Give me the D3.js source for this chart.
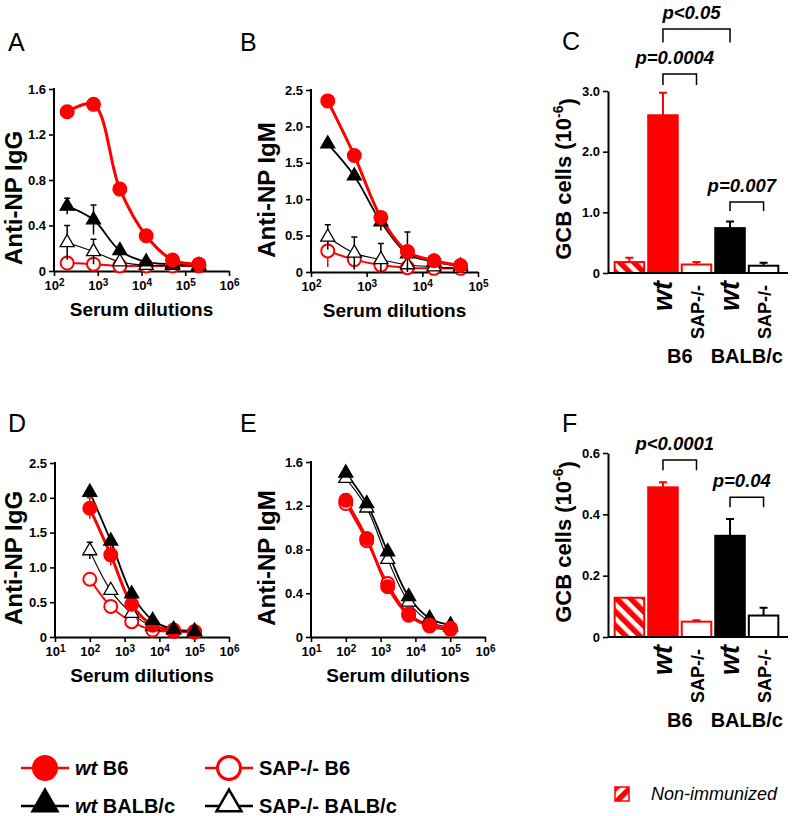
<!DOCTYPE html>
<html>
<head>
<meta charset="utf-8">
<script src="https://cdn.jsdelivr.net/npm/d3@7/dist/d3.min.js"></script>
<style>
  body { margin: 0; background: #fff; }
  text { font-family: "Liberation Sans", Arial, sans-serif; }
</style>
</head>
<body>
<svg width="800" height="816"></svg>
<script>
const RED = '#ff0000';

// ---- serum dilutions ----
const dilA = [200, 800, 3200, 12800, 51200, 204800];
const dilB = [200, 600, 1800, 5400, 16200, 48600];
const dilDE = [100, 400, 1600, 6400, 25600, 102400];

// ---- A : anti-NP IgG ----
const aWtB6 = [1.40, 1.465, 0.72, 0.31, 0.097, 0.06];
const aWtB6Err = [0.05, 0, 0, 0, 0, 0];
const aSapB6 = [0.07, 0.06, 0.045, 0.045, 0.045, 0.045];
const aSapB6Err = [0, 0, 0, 0, 0, 0];
const aWtBALB = [0.57, 0.45, 0.18, 0.08, 0.06, 0.05];
const aWtBALBErr = [0.07, 0.13, 0.02, 0, 0, 0];
const aSapBALB = [0.25, 0.17, 0.08, 0.05, 0.05, 0.04];
const aSapBALBErr = [0.15, 0.11, 0.02, 0, 0, 0];

// ---- B : anti-NP IgM ----
const bWtB6 = [2.35, 1.60, 0.75, 0.28, 0.155, 0.09];
const bWtB6Err = [0, 0, 0, 0, 0, 0];
const bSapB6 = [0.29, 0.17, 0.095, 0.06, 0.05, 0.05];
const bSapB6Err = [0.22, 0.14, 0.02, 0, 0, 0];
const bWtBALB = [1.76, 1.32, 0.69, 0.25, 0.14, 0.08];
const bWtBALBErr = [0, 0, 0.12, 0.30, 0, 0];
const bSapBALB = [0.48, 0.26, 0.17, 0.10, 0.07, 0.05];
const bSapBALBErr = [0.17, 0.22, 0.22, 0, 0, 0];

// ---- D : anti-NP IgG ----
const dWtB6 = [1.85, 1.18, 0.47, 0.17, 0.10, 0.08];
const dWtB6Err = [0.15, 0.15, 0.05, 0, 0, 0];
const dSapB6 = [0.83, 0.44, 0.22, 0.10, 0.08, 0.07];
const dSapB6Err = [0, 0, 0, 0, 0, 0];
const dWtBALB = [2.08, 1.38, 0.62, 0.24, 0.11, 0.08];
const dWtBALBErr = [0, 0, 0, 0, 0, 0];
const dSapBALB = [1.24, 0.67, 0.34, 0.15, 0.10, 0.08];
const dSapBALBErr = [0.12, 0, 0, 0, 0, 0];

// ---- E : anti-NP IgM ----
const eWtB6 = [1.25, 0.90, 0.46, 0.20, 0.10, 0.07];
const eWtB6Err = [0.06, 0.02, 0, 0, 0, 0];
const eSapB6 = [1.22, 0.88, 0.49, 0.21, 0.11, 0.08];
const eSapB6Err = [0, 0, 0, 0, 0, 0];
const eWtBALB = [1.50, 1.22, 0.78, 0.37, 0.17, 0.11];
const eWtBALBErr = [0, 0, 0, 0, 0, 0];
const eSapBALB = [1.45, 1.18, 0.71, 0.32, 0.14, 0.09];
const eSapBALBErr = [0, 0, 0, 0, 0, 0];

// ---- C / F : GCB cells ----
const barCats = ['non', 'wtB6', 'sapB6', 'wtBALB', 'sapBALB'];
const barLabels = ['', 'wt', 'SAP-/-', 'wt', 'SAP-/-'];
const cMeans = [0.18, 2.60, 0.14, 0.74, 0.12];
const cErr = [0.07, 0.37, 0.04, 0.11, 0.05];
const fMeans = [0.128, 0.488, 0.05, 0.33, 0.07];
const fErr = [0, 0.017, 0.005, 0.055, 0.025];

const svg = d3.select('svg');

// hatch patterns
const defs = svg.append('defs');
function hatch(id, angle) {
  const p = defs.append('pattern').attr('id', id)
    .attr('patternUnits', 'userSpaceOnUse').attr('width', 10).attr('height', 10)
    .attr('patternTransform', `rotate(${angle})`);
  p.append('rect').attr('width', 10).attr('height', 10).attr('fill', '#fff');
  p.append('rect').attr('width', 5.5).attr('height', 10).attr('fill', RED);
}
hatch('hatchBar', -45);
hatch('hatchLeg', 45);

const styles = {
  wtB6: { color: RED, lw: 3, shape: 'circle', fill: RED },
  sapB6: { color: RED, lw: 2, shape: 'circle', fill: '#fff' },
  wtBALB: { color: '#000', lw: 1.8, shape: 'triangle', fill: '#000' },
  sapBALB: { color: '#000', lw: 1.1, shape: 'triangle', fill: '#fff' },
};

function marker(g, st, x, y, big) {
  if (st.shape === 'circle') {
    g.append('circle').attr('cx', x).attr('cy', y).attr('r', big ? 11.5 : 6.5)
      .attr('fill', st.fill).attr('stroke', st.color).attr('stroke-width', big ? 3 : 2);
  } else {
    g.append('path').attr('d', d3.symbol(d3.symbolTriangle, big ? 270 : 85)())
      .attr('transform', `translate(${x},${y})`)
      .attr('fill', st.fill).attr('stroke', '#000').attr('stroke-width', big ? 2.5 : 1.3);
  }
}

function styleAxis(ax) {
  ax.select('.domain').attr('stroke', '#000').attr('stroke-width', 2);
  ax.selectAll('.tick line').attr('stroke', '#000').attr('stroke-width', 1.6);
  ax.selectAll('.tick text').attr('fill', '#000').attr('font-size', 13)
    .attr('font-weight', 'bold').attr('font-family', '"Liberation Sans", Arial, sans-serif');
}

function letter(x, y, t) {
  svg.append('text').attr('x', x).attr('y', y).attr('font-size', 25).text(t);
}

function yTitle(x, cy, t, size, sup) {
  const tx = svg.append('text').attr('transform', `translate(${x},${cy}) rotate(-90)`)
    .attr('text-anchor', 'middle').attr('font-size', size).attr('font-weight', 'bold').text(t);
  if (sup) {
    tx.append('tspan').attr('dy', '-0.55em').attr('font-size', 14).text(sup);
    tx.append('tspan').attr('dy', '0.55em').text(')');
  }
}

function linePanel(p) {
  const x = d3.scaleLog().domain(p.xDomain).range([p.left, p.right]);
  const y = d3.scaleLinear().domain(p.yDomain).range([p.bottom, p.top]);
  const g = svg.append('g');

  const xa = g.append('g').attr('transform', `translate(0,${p.bottom})`)
    .call(d3.axisBottom(x).tickValues(p.xTicks).tickSize(5).tickSizeOuter(0).tickPadding(5));
  styleAxis(xa);
  xa.selectAll('.tick text').each(function (d) {
    const t = d3.select(this).text('10');
    t.append('tspan').attr('dy', '-0.45em').attr('font-size', 10).text(Math.round(Math.log10(d)));
  });
  const ya = g.append('g').attr('transform', `translate(${p.left},0)`)
    .call(d3.axisLeft(y).tickValues(p.yTicks).tickSize(5).tickSizeOuter(0).tickPadding(3)
      .tickFormat(d => d === 0 ? '0' : d3.format(p.yFmt)(d)));
  styleAxis(ya);
  ya.select('.domain').attr('d', `M0,${p.bottom}V${p.top - 1}`);

  svg.append('text').attr('x', (p.left + p.right) / 2).attr('y', p.bottom + 45)
    .attr('text-anchor', 'middle').attr('font-size', 19).attr('font-weight', 'bold')
    .text('Serum dilutions');
  yTitle(p.titleX, p.titleY, p.title, 24);
  letter(p.letterX, p.letterY, p.letter);

  const line = d3.line().curve(d3.curveCatmullRom.alpha(0.5))
    .x((d, i) => x(p.dil[i])).y(d => y(d));

  p.series.forEach(s => {
    const st = styles[s.key];
    g.append('path').attr('d', line(s.values)).attr('fill', 'none')
      .attr('stroke', st.color).attr('stroke-width', st.lw);
  });
  p.series.forEach(s => {
    const st = styles[s.key];
    s.values.forEach((v, i) => {
      const e = s.err[i];
      if (!e) return;
      const cx = x(p.dil[i]);
      g.append('path')
        .attr('d', `M${cx},${y(Math.max(0, v - e))}V${y(v + e)}M${cx - 3},${y(v + e)}H${cx + 3}`)
        .attr('stroke', st.color).attr('stroke-width', 1.5).attr('fill', 'none');
    });
    s.values.forEach((v, i) => marker(g, st, x(p.dil[i]), y(v), false));
  });
}

function barPanel(p) {
  const x = d3.scaleBand().domain(barCats).range([p.left + 5, p.right - 8]).paddingInner(0.06).paddingOuter(0.02);
  const y = d3.scaleLinear().domain(p.yDomain).range([p.bottom, p.top]);
  const g = svg.append('g');
  const fills = { non: 'url(#hatchBar)', wtB6: RED, sapB6: '#fff', wtBALB: '#000', sapBALB: '#fff' };
  const strokes = { non: RED, wtB6: RED, sapB6: RED, wtBALB: '#000', sapBALB: '#000' };

  barCats.forEach((c, i) => {
    const v = p.means[i], e = p.err[i];
    const bx = x(c), cx = bx + x.bandwidth() / 2;
    if (e) {
      g.append('path')
        .attr('d', `M${cx},${y(v)}V${y(v + e)}M${cx - 4},${y(v + e)}H${cx + 4}`)
        .attr('stroke', strokes[c]).attr('stroke-width', 2).attr('fill', 'none');
    }
    g.append('rect').attr('x', bx + 1).attr('y', y(v)).attr('width', x.bandwidth() - 2)
      .attr('height', y(0) - y(v)).attr('fill', fills[c]).attr('stroke', strokes[c]).attr('stroke-width', 2);
  });

  const xa = g.append('g').attr('transform', `translate(0,${p.bottom})`)
    .call(d3.axisBottom(x).tickSize(0).tickFormat(''));
  styleAxis(xa);
  xa.select('.domain').attr('d', `M${p.left},0H${p.right}`);
  const ya = g.append('g').attr('transform', `translate(${p.left},0)`)
    .call(d3.axisLeft(y).tickValues(p.yTicks).tickSize(5).tickSizeOuter(0).tickPadding(3)
      .tickFormat(d => d === 0 ? '0' : d3.format(p.yFmt)(d)));
  styleAxis(ya);

  // category labels (rotated)
  barCats.forEach((c, i) => {
    if (!barLabels[i]) return;
    const cx = x(c) + x.bandwidth() / 2;
    const isWt = barLabels[i] === 'wt';
    svg.append('text')
      .attr('transform', `translate(${cx + (isWt ? 9 : 7)},${p.bottom + (isWt ? 8 : 12)}) rotate(-90)`)
      .attr('text-anchor', 'end')
      .attr('font-size', isWt ? 27 : 18).attr('font-weight', 'bold')
      .attr('font-style', isWt ? 'italic' : 'normal')
      .text(barLabels[i]);
  });
  const mid = (a, b) => (x(a) + x(b) + x.bandwidth()) / 2;
  svg.append('text').attr('x', mid('wtB6', 'sapB6')).attr('y', p.bottom + p.groupDy)
    .attr('text-anchor', 'middle').attr('font-size', 20).attr('font-weight', 'bold').text('B6');
  svg.append('text').attr('x', mid('wtBALB', 'sapBALB')).attr('y', p.bottom + p.groupDy)
    .attr('text-anchor', 'middle').attr('font-size', 20).attr('font-weight', 'bold').text('BALB/c');

  // significance brackets
  p.brackets.forEach(b => {
    const x1 = x(b.from) + x.bandwidth() / 2, x2 = x(b.to) + x.bandwidth() / 2;
    const yt = y(b.top), yl = y(b.leg);
    g.append('path').attr('d', `M${x1},${yl}V${yt}H${x2}V${yl}`)
      .attr('fill', 'none').attr('stroke', '#000').attr('stroke-width', 1.5);
    svg.append('text').attr('x', (x1 + x2) / 2 - 5).attr('y', yt - 10)
      .attr('text-anchor', 'middle').attr('font-size', 18.5).attr('font-weight', 'bold')
      .attr('font-style', 'italic').text(b.label);
  });

  yTitle(p.titleX, (p.top + p.bottom) / 2 - 3, 'GCB cells (10', 22, '-6');
  letter(p.letterX, p.letterY, p.letter);
}

const ticks25 = [0, 0.5, 1, 1.5, 2, 2.5];
const ticks16 = [0, 0.4, 0.8, 1.2, 1.6];

linePanel({
  letter: 'A', letterX: 8, letterY: 51, title: 'Anti-NP IgG', titleX: 22, titleY: 198,
  left: 54, right: 229, top: 89, bottom: 271,
  xDomain: [1e2, 1e6], xTicks: [1e2, 1e3, 1e4, 1e5, 1e6],
  yDomain: [0, 1.6], yTicks: ticks16, yFmt: '.1f', dil: dilA,
  series: [
    { key: 'sapB6', values: aSapB6, err: aSapB6Err },
    { key: 'sapBALB', values: aSapBALB, err: aSapBALBErr },
    { key: 'wtBALB', values: aWtBALB, err: aWtBALBErr },
    { key: 'wtB6', values: aWtB6, err: aWtB6Err },
  ],
});
linePanel({
  letter: 'B', letterX: 240, letterY: 51, title: 'Anti-NP IgM', titleX: 275, titleY: 190,
  left: 311, right: 478, top: 90, bottom: 272,
  xDomain: [1e2, 1e5], xTicks: [1e2, 1e3, 1e4, 1e5],
  yDomain: [0, 2.5], yTicks: ticks25, yFmt: '.1f', dil: dilB,
  series: [
    { key: 'sapB6', values: bSapB6, err: bSapB6Err },
    { key: 'sapBALB', values: bSapBALB, err: bSapBALBErr },
    { key: 'wtBALB', values: bWtBALB, err: bWtBALBErr },
    { key: 'wtB6', values: bWtB6, err: bWtB6Err },
  ],
});
linePanel({
  letter: 'D', letterX: 8, letterY: 432, title: 'Anti-NP IgG', titleX: 22, titleY: 558,
  left: 55, right: 229, top: 463, bottom: 637,
  xDomain: [1e1, 1e6], xTicks: [1e1, 1e2, 1e3, 1e4, 1e5, 1e6],
  yDomain: [0, 2.5], yTicks: ticks25, yFmt: '.1f', dil: dilDE,
  series: [
    { key: 'sapB6', values: dSapB6, err: dSapB6Err },
    { key: 'sapBALB', values: dSapBALB, err: dSapBALBErr },
    { key: 'wtB6', values: dWtB6, err: dWtB6Err },
    { key: 'wtBALB', values: dWtBALB, err: dWtBALBErr },
  ],
});
linePanel({
  letter: 'E', letterX: 240, letterY: 432, title: 'Anti-NP IgM', titleX: 275, titleY: 558,
  left: 311, right: 485, top: 462, bottom: 637,
  xDomain: [1e1, 1e6], xTicks: [1e1, 1e2, 1e3, 1e4, 1e5, 1e6],
  yDomain: [0, 1.6], yTicks: ticks16, yFmt: '.1f', dil: dilDE,
  series: [
    { key: 'sapBALB', values: eSapBALB, err: eSapBALBErr },
    { key: 'wtBALB', values: eWtBALB, err: eWtBALBErr },
    { key: 'sapB6', values: eSapB6, err: eSapB6Err },
    { key: 'wtB6', values: eWtB6, err: eWtB6Err },
  ],
});

barPanel({
  letter: 'C', letterX: 562, letterY: 50, titleX: 571,
  left: 608, right: 788, top: 91, bottom: 273, groupDy: 90,
  yDomain: [0, 3], yTicks: [0, 1, 2, 3], yFmt: '.1f',
  means: cMeans, err: cErr,
  brackets: [
    { from: 'wtB6', to: 'sapB6', top: 3.28, leg: 3.10, label: 'p=0.0004' },
    { from: 'wtB6', to: 'wtBALB', top: 4.02, leg: 3.80, label: 'p<0.05' },
    { from: 'wtBALB', to: 'sapBALB', top: 1.17, leg: 1.02, label: 'p=0.007' },
  ],
});
barPanel({
  letter: 'F', letterX: 562, letterY: 432, titleX: 571,
  left: 608, right: 788, top: 453, bottom: 637, groupDy: 90,
  yDomain: [0, 0.6], yTicks: [0, 0.2, 0.4, 0.6], yFmt: '.1f',
  means: fMeans, err: fErr,
  brackets: [
    { from: 'wtB6', to: 'sapB6', top: 0.577, leg: 0.544, label: 'p<0.0001' },
    { from: 'wtBALB', to: 'sapBALB', top: 0.456, leg: 0.423, label: 'p=0.04' },
  ],
});

// ---- legend ----
const legendItems = [
  { key: 'wtB6', it: 'wt', rest: ' B6', x: 21, y: 768 },
  { key: 'sapB6', it: '', rest: 'SAP-/- B6', x: 205, y: 768 },
  { key: 'wtBALB', it: 'wt', rest: ' BALB/c', x: 21, y: 806 },
  { key: 'sapBALB', it: '', rest: 'SAP-/- BALB/c', x: 205, y: 806 },
];
const lg = svg.append('g');
legendItems.forEach(d => {
  const st = styles[d.key];
  lg.append('line').attr('x1', d.x).attr('x2', d.x + 48).attr('y1', d.y).attr('y2', d.y)
    .attr('stroke', st.color).attr('stroke-width', 2.5);
  marker(lg, st, d.x + 24, st.shape === 'triangle' ? d.y - 2 : d.y, true);
  const t = lg.append('text').attr('x', d.x + 54).attr('y', d.y + 7)
    .attr('font-size', 20).attr('font-weight', 'bold');
  if (d.it) t.append('tspan').attr('font-style', 'italic').text(d.it);
  t.append('tspan').text(d.rest);
});
lg.append('rect').attr('x', 615).attr('y', 787).attr('width', 14).attr('height', 14)
  .attr('fill', 'url(#hatchLeg)').attr('stroke', RED).attr('stroke-width', 1.5);
lg.append('text').attr('x', 651).attr('y', 800).attr('font-size', 18).attr('font-style', 'italic')
  .text('Non-immunized');
</script>
</body>
</html>
